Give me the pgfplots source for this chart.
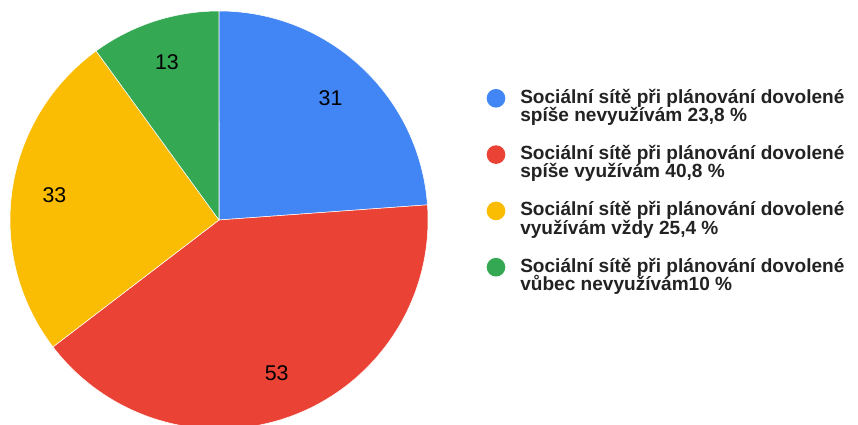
\documentclass[border=0pt]{standalone}
\usepackage{pgfplots}
\pgfplotsset{compat=1.18}
\usepackage{pgfplotstable}
\usepackage{fontspec}
\setmainfont{Liberation Sans}

\definecolor{gblue}{HTML}{4285F4}
\definecolor{gred}{HTML}{EA4335}
\definecolor{gyellow}{HTML}{FBBC04}
\definecolor{ggreen}{HTML}{34A853}
\definecolor{legtext}{HTML}{222222}

% slice values, clockwise from 12 o'clock
\pgfplotstableread{
value
31
53
33
13
}\piedata

\begin{document}
\begin{tikzpicture}
\pgfplotstablegetelem{0}{value}\of\piedata \let\vA\pgfplotsretval
\pgfplotstablegetelem{1}{value}\of\piedata \let\vB\pgfplotsretval
\pgfplotstablegetelem{2}{value}\of\piedata \let\vC\pgfplotsretval
\pgfplotstablegetelem{3}{value}\of\piedata \let\vD\pgfplotsretval
\pgfmathsetmacro\total{\vA+\vB+\vC+\vD}
\pgfmathsetmacro\aA{90}
\pgfmathsetmacro\aB{\aA-\vA/\total*360}
\pgfmathsetmacro\aC{\aB-\vB/\total*360}
\pgfmathsetmacro\aD{\aC-\vC/\total*360}
\pgfmathsetmacro\aE{\aD-\vD/\total*360}
\pgfmathsetmacro\mA{(\aA+\aB)/2}
\pgfmathsetmacro\mB{(\aB+\aC)/2}
\pgfmathsetmacro\mC{(\aC+\aD)/2}
\pgfmathsetmacro\mD{(\aD+\aE)/2}
\def\R{156.75pt}   % 209px
\def\Rl{124pt}     % label radius
\begin{axis}[
    at={(0,0)}, anchor=south west,
    x=0.75pt, y=0.75pt,
    xmin=0, xmax=858, ymin=0, ymax=425,
    hide axis, clip=false,
  ]
  % slices
  \fill[gblue, draw=white, line width=0.4pt] (axis cs:219,205) -- ++(\aA:\R) arc[start angle=\aA, end angle=\aB, radius=\R] -- cycle;
  \fill[gred, draw=white, line width=0.4pt] (axis cs:219,205) -- ++(\aB:\R) arc[start angle=\aB, end angle=\aC, radius=\R] -- cycle;
  \fill[gyellow, draw=white, line width=0.4pt] (axis cs:219,205) -- ++(\aC:\R) arc[start angle=\aC, end angle=\aD, radius=\R] -- cycle;
  \fill[ggreen, draw=white, line width=0.4pt] (axis cs:219,205) -- ++(\aD:\R) arc[start angle=\aD, end angle=\aE, radius=\R] -- cycle;
  % value labels
  \path[font=\fontsize{16}{19}\selectfont, text=black]
    (axis cs:218,206) ++(\mA:\Rl) node {\vA}
    (axis cs:218,206) ++(\mB:\Rl) node {\vB}
    (axis cs:218,206) ++(\mC:\Rl) node {\vC}
    (axis cs:218,206) ++(\mD:\Rl) node {\vD};
  % legend
  \fill[gblue] (axis cs:496,326.7) circle (7pt);
  \fill[gred] (axis cs:496,270.4) circle (7pt);
  \fill[gyellow] (axis cs:496,214.1) circle (7pt);
  \fill[ggreen] (axis cs:496,157.8) circle (7pt);
  \begin{scope}[every node/.style={anchor=base west, inner sep=0pt, text=legtext, font=\fontsize{14.3}{16}\selectfont\bfseries}]
  \node at (axis cs:520,321.7) {Sociální sítě při plánování dovolené};
  \node at (axis cs:520,303.4) {spíše nevyužívám 23,8 \%};
  \node at (axis cs:520,265.4) {Sociální sítě při plánování dovolené};
  \node at (axis cs:520,247.1) {spíše využívám 40,8 \%};
  \node at (axis cs:520,209.1) {Sociální sítě při plánování dovolené};
  \node at (axis cs:520,190.8) {využívám vždy 25,4 \%};
  \node at (axis cs:520,152.8) {Sociální sítě při plánování dovolené};
  \node at (axis cs:520,134.5) {vůbec nevyužívám10 \%};
  \end{scope}
\end{axis}
\pgfresetboundingbox
\useasboundingbox (0,0) rectangle (643.5pt,318.75pt);
\end{tikzpicture}
\end{document}
